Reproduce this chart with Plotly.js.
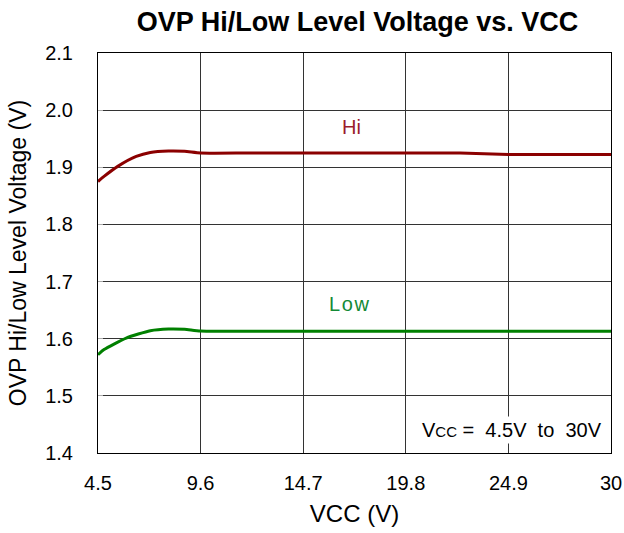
<!DOCTYPE html>
<html>
<head>
<meta charset="utf-8">
<script src="https://cdn.plot.ly/plotly-3.0.1.min.js"></script>
<style>html,body{margin:0;padding:0;background:#fff;}#chart{width:624px;height:533px;}</style>
</head>
<body>
<div id="chart"></div>
<script>
const xTicks = [4.5, 9.6, 14.7, 19.8, 24.9, 30];
const xTickLabels = ["4.5", "9.6", "14.7", "19.8", "24.9", "30"];
const yTicks = [1.4, 1.5, 1.6, 1.7, 1.8, 1.9, 2.0, 2.1];
const yTickLabels = ["1.4", "1.5", "1.6", "1.7", "1.8", "1.9", "2.0", "2.1"];

const hiVcc = [4.5, 4.8, 5.5, 6.4, 7.1, 8.0, 8.8, 9.6, 12, 15, 20, 22.5, 24.9, 27, 30];
const hiV   = [1.875, 1.884, 1.902, 1.919, 1.926, 1.9285, 1.928, 1.925, 1.925, 1.925, 1.925, 1.925, 1.9225, 1.9225, 1.9225];
const lowVcc = [4.5, 4.8, 5.9, 7.1, 8.0, 8.8, 9.6, 15, 20, 25, 30];
const lowV   = [1.572, 1.581, 1.601, 1.614, 1.617, 1.6165, 1.6135, 1.613, 1.613, 1.613, 1.613];

const FONT = "Liberation Sans, Arial, sans-serif";

const traces = [
  {x: hiVcc, y: hiV, mode: "lines", line: {color: "#8b0000", width: 3, shape: "spline", smoothing: 0.6}, hoverinfo: "skip"},
  {x: lowVcc, y: lowV, mode: "lines", line: {color: "#008000", width: 3, shape: "spline", smoothing: 0.6}, hoverinfo: "skip"}
];

const layout = {
  width: 624, height: 533,
  margin: {l: 98, r: 13, t: 53, b: 80},
  paper_bgcolor: "#fff", plot_bgcolor: "#fff",
  showlegend: false,
  font: {family: FONT, color: "#000"},
  title: {text: "<b>OVP Hi/Low Level Voltage vs. VCC</b>", font: {family: FONT, size: 27, color: "#000"}, x: 0.573, xanchor: "center", y: 0.96, yanchor: "middle"},
  xaxis: {
    range: [4.5, 30], tickvals: xTicks, ticktext: xTickLabels,
    showgrid: true, gridcolor: "#333", gridwidth: 1,
    showline: true, linecolor: "#000", linewidth: 1, mirror: true,
    zeroline: false, ticks: "", tickfont: {size: 20, family: FONT}, ticklabelstandoff: 12,
    title: {text: "VCC (V)", font: {size: 24, family: FONT}, standoff: 12}
  },
  yaxis: {
    range: [1.4, 2.1], tickvals: yTicks, ticktext: yTickLabels,
    showgrid: true, gridcolor: "#333", gridwidth: 1,
    showline: true, linecolor: "#000", linewidth: 1, mirror: true,
    zeroline: false, ticks: "inside", ticklen: 5, tickcolor: "#aaa", tickfont: {size: 20, family: FONT}, ticklabelstandoff: 20,
    title: {text: "OVP Hi/Low Level Voltage (V)", font: {size: 23, family: FONT}, standoff: 12}
  },
  annotations: [
    {x: 17.1, y: 1.971, xref: "x", yref: "y", text: "Hi", showarrow: false, font: {size: 20, color: "#9b1c2c", family: FONT}},
    {x: 17.0, y: 1.661, xref: "x", yref: "y", text: "L&#8202;o&#8202;w", showarrow: false, font: {size: 20, color: "#138a36", family: FONT}},
    {x: 25.1, y: 1.44, xref: "x", yref: "y", text: "V<span style='font-size:15px'>CC</span> =  4.5V  to  30V", showarrow: false, bgcolor: "#fff", borderpad: 2, font: {size: 20, color: "#000", family: FONT}}
  ]
};

Plotly.newPlot("chart", traces, layout, {staticPlot: true, displayModeBar: false});
</script>
</body>
</html>
